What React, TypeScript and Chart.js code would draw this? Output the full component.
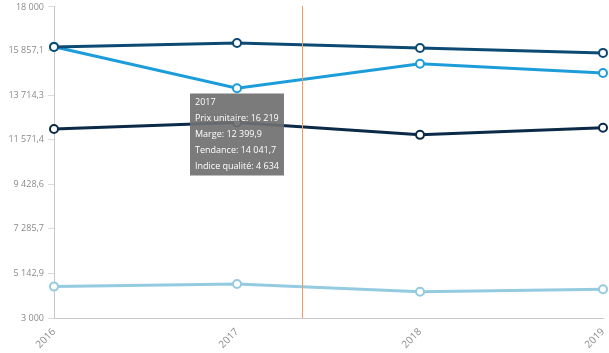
import React, { useEffect, useRef } from "react";
import { Chart, registerables } from "chart.js";

Chart.register(...registerables);

const categories = ["2016", "2017", "2018", "2019"];
const prixUnitaire = [16030, 16219, 15985, 15745];
const marge = [12090, 12399.9, 11805, 12150];
const tendance = [16040, 14041.7, 15225, 14780];
const indiceQualite = [4510, 4634, 4260, 4380];
const yMin = 3000;
const yMax = 18000;
const yTickCount = 7;
const activeIndex = 1;
const crosshairIndex = 1.355;

const nf = new Intl.NumberFormat("fr-FR", { maximumFractionDigits: 1 });
const fmt = (v: number) => nf.format(v).replace(/[\u202f\u00a0]/g, " ");

const crosshairPlugin = {
  id: "crosshair",
  afterDatasetsDraw(chart: any) {
    const { ctx, chartArea, scales } = chart;
    const x = scales.x.getPixelForValue(crosshairIndex);
    ctx.save();
    ctx.strokeStyle = "#f7995a";
    ctx.lineWidth = 1;
    ctx.beginPath();
    ctx.moveTo(Math.round(x) + 0.5, chartArea.top);
    ctx.lineTo(Math.round(x) + 0.5, chartArea.bottom);
    ctx.stroke();
    ctx.restore();
  },
};

// keep the outermost y labels inside the canvas
const labelClampPlugin = {
  id: "labelClamp",
  beforeDraw(chart: any) {
    const s = chart.scales.y;
    const items = s.getLabelItems(chart.chartArea);
    items.forEach((it: any) => {
      const t = it.options.translation;
      if (t[1] < 7) t[1] = 7;
    });
  },
};

export default function App() {
  const ref = useRef<HTMLCanvasElement>(null);
  useEffect(() => {
    document.body.style.margin = "0";
    const mk = (label: string, data: number[], color: string) => ({
      label,
      data,
      borderColor: color,
      backgroundColor: "#ffffff",
      pointBackgroundColor: "#ffffff",
      pointBorderColor: color,
      pointBorderWidth: 2,
      pointRadius: 4,
      pointHoverRadius: 4,
      pointHoverBorderWidth: 2,
      borderWidth: 3,
      tension: 0,
      fill: false,
    });
    const chart = new Chart(ref.current!, {
      type: "line",
      data: {
        labels: categories,
        datasets: [
          mk("Prix unitaire", prixUnitaire, "#0d4a73"),
          mk("Marge", marge, "#0b2a47"),
          mk("Tendance", tendance, "#1c9dd9"),
          mk("Indice qualité", indiceQualite, "#94cbe1"),
        ],
      },
      options: {
        animation: false,
        responsive: false,
        maintainAspectRatio: false,
        events: [],
        layout: { padding: 0 },
        plugins: {
          legend: { display: false },
          tooltip: {
            mode: "index",
            intersect: false,
            position: "average",
            xAlign: "center",
            yAlign: "center",
            caretSize: 0,
            cornerRadius: 0,
            displayColors: false,
            backgroundColor: "rgba(112,112,112,0.92)",
            titleColor: "#ffffff",
            bodyColor: "#ffffff",
            titleFont: { family: "'Open Sans'", size: 9, weight: "normal" },
            bodyFont: { family: "'Open Sans'", size: 9 },
            titleMarginBottom: 5,
            bodySpacing: 5,
            padding: { left: 5, right: 5, top: 4, bottom: 4 },
            callbacks: {
              label: (c: any) => `${c.dataset.label}: ${fmt(c.raw)}`,
            },
          },
        },
        scales: {
          x: {
            offset: false,
            grid: { display: false, drawTicks: false },
            border: { color: "#c8c8c8" },
            ticks: {
              color: "#8a8a8a",
              font: { family: "'Open Sans'", size: 10 },
              minRotation: 45,
              maxRotation: 45,
              padding: 8,
            },
            afterFit: (s: any) => {
              s.height = 35;
              s.paddingRight = 5;
            },
          },
          y: {
            min: yMin,
            max: yMax,
            grid: { drawOnChartArea: false, drawTicks: true, tickLength: 6, color: "#dddddd" },
            border: { color: "#c8c8c8" },
            ticks: {
              stepSize: (yMax - yMin) / yTickCount,
              color: "#8a8a8a",
              font: { family: "'Open Sans'", size: 9 },
              padding: 4,
              callback: (v: any) => fmt(Number(v)),
            },
            afterFit: (s: any) => {
              s.width = 54;
              s.paddingTop = 1;
              s.paddingBottom = 0;
            },
          },
        },
      },
      plugins: [crosshairPlugin, labelClampPlugin],
    });
    const els = chart.data.datasets.map((_, i) => ({ datasetIndex: i, index: activeIndex }));
    const meta = chart.getDatasetMeta(0).data[activeIndex] as any;
    chart.tooltip!.setActiveElements(els, { x: meta.x, y: meta.y });
    chart.update();
    return () => chart.destroy();
  }, []);
  return (
    <div style={{ width: 609, height: 353 }}>
      <canvas ref={ref} width={609} height={353} />
    </div>
  );
}
